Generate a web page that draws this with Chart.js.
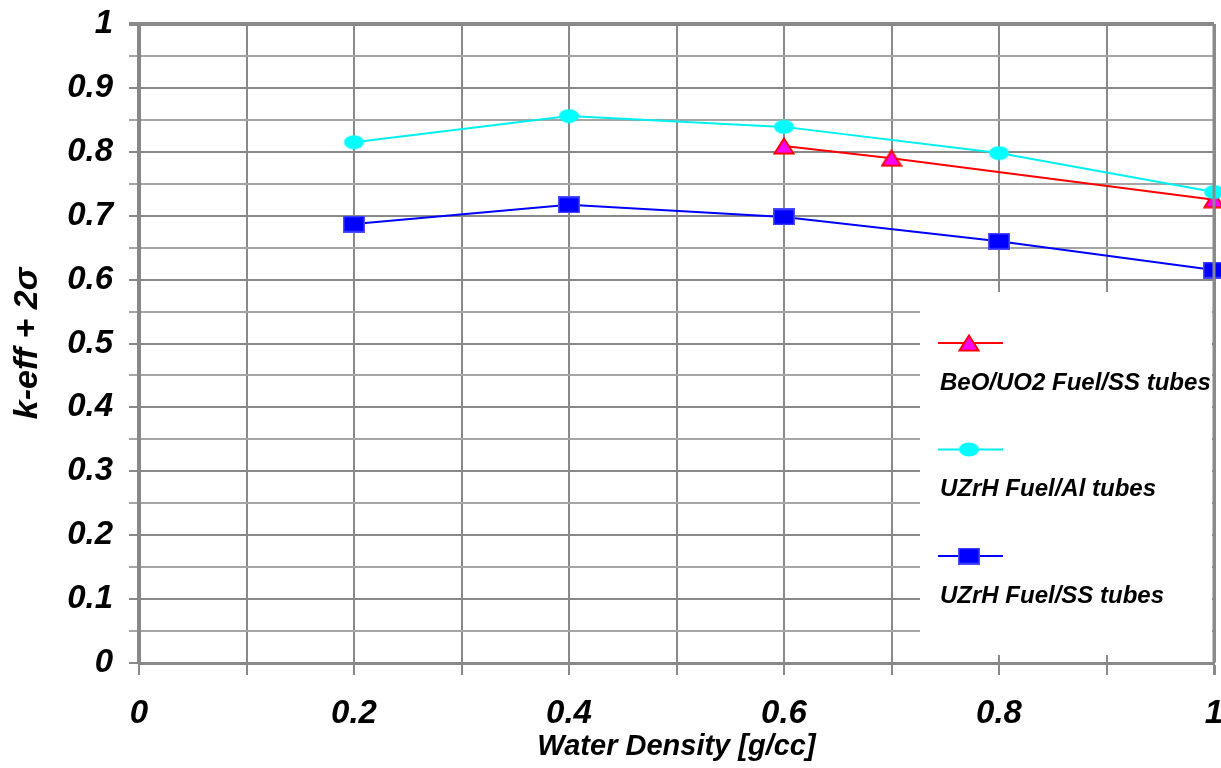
<!DOCTYPE html>
<html>
<head>
<meta charset="utf-8">
<script src="https://cdn.jsdelivr.net/npm/chart.js@4.4.1/dist/chart.umd.min.js"></script>
<style>
  html, body { margin: 0; padding: 0; background: #fff; }
  canvas { display: block; }
</style>
</head>
<body>
<canvas id="myChart" width="1221" height="768"></canvas>
<script>
// water density [g/cc]
var densita = [0.2, 0.4, 0.6, 0.8, 1.0];
var densitaBeo = [0.6, 0.7, 1.0];

// k-eff + 2 sigma
var beoSS = [0.809, 0.790, 0.725];
var uzrhAl = [0.815, 0.856, 0.839, 0.798, 0.737];
var uzrhSS = [0.687, 0.717, 0.698, 0.660, 0.615];

var nomiSerie = ['BeO/UO2 Fuel/SS tubes', 'UZrH Fuel/Al tubes', 'UZrH Fuel/SS tubes'];
var xLabels = ['0', '0.2', '0.4', '0.6', '0.8', '1'];
var yLabels = ['0', '0.1', '0.2', '0.3', '0.4', '0.5', '0.6', '0.7', '0.8', '0.9', '1'];

var fontFam = '"Liberation Sans", Arial, sans-serif';

function punti(xs, ys) {
  return xs.map(function (x, i) { return { x: x, y: ys[i] }; });
}

// marker images
function marker(w, h, draw) {
  var c = document.createElement('canvas');
  c.width = w; c.height = h;
  draw(c.getContext('2d'), w, h);
  return c;
}
var triangolo = marker(22, 18, function (g, w, h) {
  g.beginPath();
  g.moveTo(w / 2, 1.5);
  g.lineTo(w - 1.5, h - 1.5);
  g.lineTo(1.5, h - 1.5);
  g.closePath();
  g.fillStyle = '#ff00ff';
  g.fill();
  g.strokeStyle = '#ff0000';
  g.lineWidth = 2;
  g.stroke();
});
var cerchio = marker(21, 15, function (g, w, h) {
  g.beginPath();
  g.ellipse(w / 2, h / 2, w / 2 - 0.5, h / 2 - 0.5, 0, 0, Math.PI * 2);
  g.fillStyle = '#00ffff';
  g.fill();
});
var quadrato = marker(22, 17, function (g, w, h) {
  g.fillStyle = '#0000ff';
  g.fillRect(0, 0, w, h);
  g.strokeStyle = '#4d4dff';
  g.lineWidth = 1.5;
  g.strokeRect(0.75, 0.75, w - 1.5, h - 1.5);
});

var legendaBox = {
  id: 'legendaBox',
  afterDraw: function (chart) {
    var ctx = chart.ctx;
    var area = chart.chartArea;
    ctx.save();
    // right frame line over the markers
    ctx.strokeStyle = '#8a8a8a';
    ctx.lineWidth = 3;
    ctx.beginPath();
    ctx.moveTo(area.right, area.top);
    ctx.lineTo(area.right, area.bottom);
    ctx.stroke();

    ctx.fillStyle = '#ffffff';
    ctx.fillRect(920, 292, area.right - 2 - 920, 655 - 292);
    chart.data.datasets.forEach(function (ds, i) {
      var ly = 343 + i * 106.5;
      ctx.strokeStyle = ds.borderColor;
      ctx.lineWidth = 2;
      ctx.beginPath();
      ctx.moveTo(938, ly);
      ctx.lineTo(1003, ly);
      ctx.stroke();
      var img = ds.pointStyle;
      ctx.drawImage(img, 969 - img.width / 2, ly - img.height / 2);
      ctx.fillStyle = '#000';
      ctx.font = 'italic bold 24px ' + fontFam;
      ctx.textBaseline = 'middle';
      ctx.textAlign = 'left';
      ctx.fillText(ds.label, 940, ly + 40);
    });
    ctx.restore();
  }
};

var ctx = document.getElementById('myChart');

new Chart(ctx, {
  type: 'line',
  data: {
    datasets: [
      {
        label: nomiSerie[0],
        data: punti(densitaBeo, beoSS),
        borderColor: '#ff0000',
        backgroundColor: '#ff00ff',
        borderWidth: 2,
        pointStyle: triangolo,
        order: 1,
        clip: false
      },
      {
        label: nomiSerie[1],
        data: punti(densita, uzrhAl),
        borderColor: '#00f0f0',
        backgroundColor: '#00ffff',
        borderWidth: 2,
        pointStyle: cerchio,
        order: 0,
        clip: false
      },
      {
        label: nomiSerie[2],
        data: punti(densita, uzrhSS),
        borderColor: '#0000ff',
        backgroundColor: '#0000ff',
        borderWidth: 2,
        pointStyle: quadrato,
        order: 2,
        clip: false
      }
    ]
  },
  options: {
    responsive: false,
    animation: false,
    layout: { padding: { top: 24, right: 7, left: 0, bottom: 0 } },
    plugins: {
      legend: { display: false },
      tooltip: { enabled: false }
    },
    scales: {
      x: {
        type: 'linear',
        min: 0,
        max: 1,
        afterFit: function (s) { s.height = 105; s.paddingLeft = 0; s.paddingRight = 0; },
        ticks: {
          stepSize: 0.1,
          autoSkip: false,
          maxRotation: 0,
          padding: 19,
          color: '#000',
          font: { family: fontFam, size: 33, weight: 'bold', style: 'italic' },
          callback: function (v) {
            var k = Math.round(v * 10);
            return k % 2 === 0 ? xLabels[k / 2] : '';
          }
        },
        grid: {
          color: '#8a8a8a',
          lineWidth: function (c) { return c.tick && Math.round(c.tick.value * 10) === 10 ? 3 : 2; },
          tickLength: 12
        },
        border: { color: '#888', width: 3 },
        title: {
          display: true,
          text: 'Water Density [g/cc]',
          color: '#000',
          padding: { top: 0, bottom: 4 },
          font: { family: fontFam, size: 29, weight: 'bold', style: 'italic' }
        }
      },
      y: {
        min: 0,
        max: 1,
        afterFit: function (s) { s.width = 139; s.paddingTop = 0; s.paddingBottom = 0; },
        ticks: {
          stepSize: 0.05,
          autoSkip: false,
          padding: 16,
          color: '#000',
          font: { family: fontFam, size: 33, weight: 'bold', style: 'italic' },
          callback: function (v) {
            var k = Math.round(v * 20);
            return k % 2 === 0 ? yLabels[k / 2] : '';
          }
        },
        grid: {
          color: function (c) {
            return c.tick && Math.round(c.tick.value * 20) % 2 === 0 ? '#888888' : '#a6a6a6';
          },
          lineWidth: function (c) { return c.tick && Math.round(c.tick.value * 20) === 20 ? 4 : 2; },
          tickLength: 10
        },
        border: { color: '#888', width: 4 },
        title: {
          display: true,
          text: 'k-eff + 2σ',
          color: '#000',
          padding: { top: 7, bottom: 0 },
          font: { family: fontFam, size: 34, weight: 'bold', style: 'italic' }
        }
      }
    }
  },
  plugins: [legendaBox]
});
</script>
</body>
</html>
